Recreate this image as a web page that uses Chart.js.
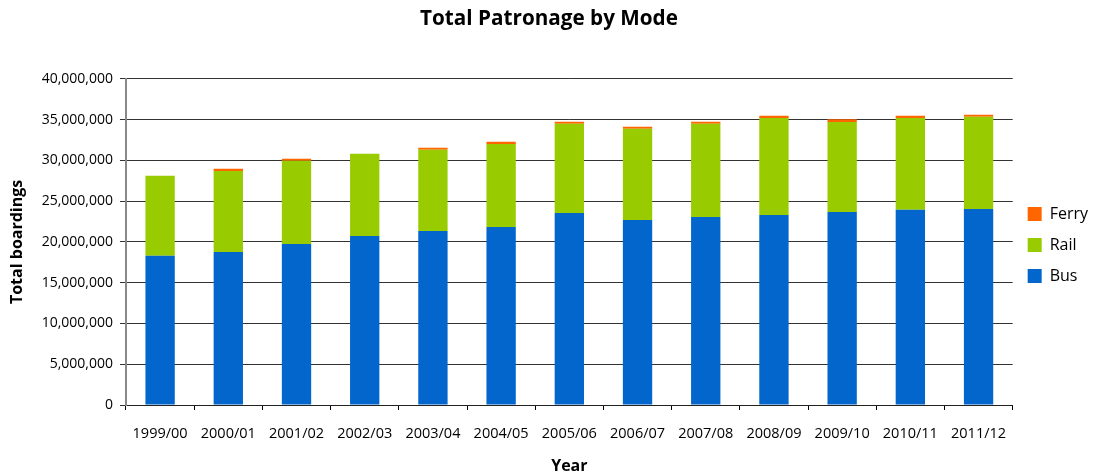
<!DOCTYPE html>
<html>
<head>
<meta charset="utf-8">
<script src="https://cdn.jsdelivr.net/npm/chart.js@4"></script>
<style>
html,body{margin:0;padding:0;background:#fff;}
#wrap{width:1098px;height:476px;}
</style>
</head>
<body>
<div id="wrap"><canvas id="c" width="1098" height="476"></canvas></div>
<script>
const years = ["1999/00","2000/01","2001/02","2002/03","2003/04","2004/05","2005/06","2006/07","2007/08","2008/09","2009/10","2010/11","2011/12"];
const bus   = [18300000,18770000,19750000,20740000,21350000,21840000,23560000,22700000,23070000,23310000,23680000,23930000,24050000];
const rail  = [9800000,9940000,10200000,10060000,9940000,10180000,10920000,11170000,11410000,11900000,11040000,11280000,11290000];
const ferry = [0,250000,250000,0,250000,250000,250000,250000,250000,250000,330000,250000,250000];
const yTicks = [0,5000000,10000000,15000000,20000000,25000000,30000000,35000000,40000000];

const FONT = "'Open Sans', 'Liberation Sans', sans-serif";

new Chart(document.getElementById('c'), {
  type: 'bar',
  data: {
    labels: years,
    datasets: [
      {label: 'Bus', data: bus, backgroundColor: '#0366CC'},
      {label: 'Rail', data: rail, backgroundColor: '#99CC00'},
      {label: 'Ferry', data: ferry, backgroundColor: '#FF6600'}
    ]
  },
  options: {
    responsive: false,
    animation: false,
    devicePixelRatio: 1,
    categoryPercentage: 1,
    barPercentage: 0.43,
    layout: {padding: {left: 0, right: 0, top: 0, bottom: 0}},
    plugins: {
      title: {
        display: true,
        text: 'Total Patronage by Mode',
        color: '#000',
        font: {family: FONT, size: 20.7, weight: 'bold'},
        padding: {top: 7, bottom: 47}
      },
      legend: {
        position: 'right',
        reverse: true,
        title: {display: true, text: ' ', font: {family: FONT, size: 10}, padding: 1},
        labels: {
          color: '#000',
          font: {family: FONT, size: 16},
          boxWidth: 14,
          boxHeight: 14,
          padding: 15
        }
      },
      tooltip: {enabled: false}
    },
    scales: {
      x: {
        stacked: true,
        afterFit: (s) => { s.height = 71; },
        grid: {drawOnChartArea: false, drawTicks: true, tickLength: 5, color: '#000', offset: true},
        border: {color: '#222', width: 1},
        ticks: {color: '#000', font: {family: FONT, size: 14.5}, padding: 15, maxRotation: 0},
        title: {display: true, text: 'Year', color: '#000', font: {family: FONT, size: 16, weight: 'bold'}, padding: {top: 5, bottom: 0}}
      },
      y: {
        stacked: true,
        min: 0,
        max: 40000000,
        afterBuildTicks: (s) => { s.ticks = yTicks.map(v => ({value: v})); },
        afterFit: (s) => { s.width = 126; },
        grid: {color: '#333', lineWidth: 1, drawTicks: true, tickLength: 6},
        border: {color: '#888', width: 2},
        ticks: {
          color: '#000',
          font: {family: FONT, size: 14},
          padding: 7,
          callback: (v) => Number(v).toLocaleString('en-US')
        },
        title: {display: true, text: 'Total boardings', color: '#000', font: {family: FONT, size: 16, weight: 'bold'}, padding: {top: 8, bottom: 4}}
      }
    }
  }
});
</script>
</body>
</html>
